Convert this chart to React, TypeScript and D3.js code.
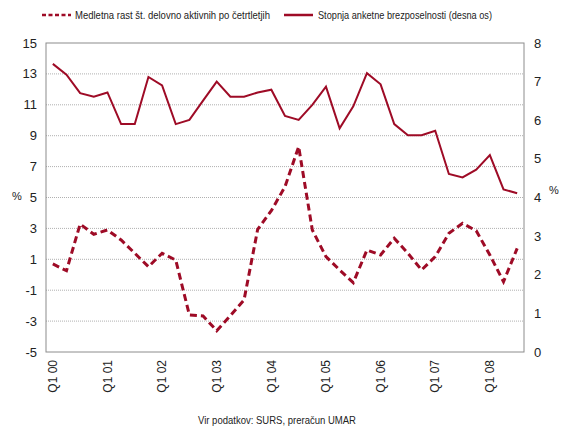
import { useEffect, useRef } from 'react';
import * as d3 from 'd3';

const quarters = d3.range(2000, 2009).flatMap((y) =>
  [1, 2, 3, 4].map((q) => `Q${q} ${String(y % 100).padStart(2, '0')}`)
).slice(0, 35);

// Medletna rast št. delovno aktivnih (left axis)
const employmentGrowth = [
  0.7, 0.26, 3.28, 2.62, 2.9, 2.25, 1.39, 0.52, 1.39, 0.95,
  -2.61, -2.67, -3.62, -2.65, -1.63, 2.94, 4.15, 5.7, 8.29, 2.9,
  1.17, 0.31, -0.51, 1.6, 1.28, 2.36, 1.39, 0.31, 1.17, 2.68,
  3.33, 2.85, 1.28, -0.45, 1.71,
];

// Stopnja anketne brezposelnosti (right axis)
const unemployment = [
  7.46, 7.18, 6.7, 6.61, 6.72, 5.9, 5.9, 7.12, 6.9, 5.9,
  6.01, 6.51, 7.0, 6.61, 6.61, 6.72, 6.79, 6.11, 6.01, 6.4,
  6.87, 5.79, 6.36, 7.22, 6.93, 5.9, 5.61, 5.61, 5.73, 4.61,
  4.52, 4.72, 5.1, 4.21, 4.11,
];

const leftTicks = d3.range(-5, 16, 2);
const rightTicks = d3.range(0, 9, 1);
const xTickLabels = quarters.filter((q) => q.startsWith('Q1'));

const RED = '#9e0b26';
const FONT = '"Liberation Sans", Arial, sans-serif';

export default function App() {
  const ref = useRef<SVGSVGElement>(null);

  useEffect(() => {
    if (!ref.current) return;
    const svg = d3.select(ref.current);
    svg.selectAll('*').remove();

    const W = 562, H = 426;
    const margin = { top: 43, right: 38, bottom: 74, left: 46 };
    const iw = W - margin.left - margin.right;
    const ih = H - margin.top - margin.bottom;

    const x = d3.scaleBand().domain(quarters).range([0, iw]);
    const yL = d3.scaleLinear().domain([-5, 15]).range([ih, 0]);
    const yR = d3.scaleLinear().domain([0, 8]).range([ih, 0]);
    const cx = (q: string) => (x(q) as number) + x.bandwidth() / 2;

    const g = svg.append('g').attr('transform', `translate(${margin.left},${margin.top})`);

    // gridlines
    g.selectAll('line.grid')
      .data(leftTicks.filter((t) => t > -5 && t < 15))
      .join('line')
      .attr('x1', 0).attr('x2', iw)
      .attr('y1', (d) => yL(d)).attr('y2', (d) => yL(d))
      .attr('stroke', '#b0b0b0')
      .attr('stroke-width', 1)
      .attr('stroke-dasharray', '1,1');

    // frame
    g.append('rect')
      .attr('x', 0).attr('y', 0).attr('width', iw).attr('height', ih)
      .attr('fill', 'none').attr('stroke', '#8c8c8c').attr('stroke-width', 1);

    // left ticks
    g.selectAll('text.yl')
      .data(leftTicks)
      .join('text')
      .attr('x', -9).attr('y', (d) => yL(d))
      .attr('dy', '0.35em')
      .attr('text-anchor', 'end')
      .attr('font-family', FONT).attr('font-size', 13).attr('fill', '#222')
      .text((d) => String(d));

    // right ticks
    g.selectAll('text.yr')
      .data(rightTicks)
      .join('text')
      .attr('x', iw + 10).attr('y', (d) => yR(d))
      .attr('dy', '0.35em')
      .attr('text-anchor', 'start')
      .attr('font-family', FONT).attr('font-size', 13).attr('fill', '#222')
      .text((d) => String(d));

    // % labels
    svg.append('text').attr('x', 12).attr('y', 196).attr('dy', '0.35em')
      .attr('font-family', FONT).attr('font-size', 11).attr('fill', '#222').text('%');
    svg.append('text').attr('x', 549).attr('y', 190).attr('dy', '0.35em')
      .attr('font-family', FONT).attr('font-size', 11).attr('fill', '#222').text('%');

    // x labels
    g.selectAll('text.x')
      .data(xTickLabels)
      .join('text')
      .attr('transform', (d) => `translate(${cx(d)},${ih + 8}) rotate(-90)`)
      .attr('dy', '0.35em')
      .attr('text-anchor', 'end')
      .attr('font-family', FONT).attr('font-size', 12).attr('fill', '#222')
      .text((d) => d);

    // lines
    const lineL = d3.line<number>().x((_, i) => cx(quarters[i])).y((d) => yL(d));
    const lineR = d3.line<number>().x((_, i) => cx(quarters[i])).y((d) => yR(d));

    g.append('path')
      .attr('d', lineR(unemployment) as string)
      .attr('fill', 'none').attr('stroke', RED).attr('stroke-width', 2)
      .attr('stroke-linejoin', 'miter');

    g.append('path')
      .attr('d', lineL(employmentGrowth) as string)
      .attr('fill', 'none').attr('stroke', RED).attr('stroke-width', 3)
      .attr('stroke-dasharray', '7,4');

    // legend
    const leg = svg.append('g').attr('transform', 'translate(0,15)');
    leg.append('line').attr('x1', 42).attr('x2', 71).attr('y1', 0).attr('y2', 0)
      .attr('stroke', RED).attr('stroke-width', 2.5).attr('stroke-dasharray', '4,2.5');
    leg.append('text').attr('x', 75).attr('y', 0).attr('dy', '0.35em')
      .attr('font-family', FONT).attr('font-size', 11).attr('fill', '#222')
      .attr('textLength', 195).attr('lengthAdjust', 'spacingAndGlyphs')
      .text('Medletna rast št. delovno aktivnih po četrtletjih');
    leg.append('line').attr('x1', 284).attr('x2', 313).attr('y1', 0).attr('y2', 0)
      .attr('stroke', RED).attr('stroke-width', 2.5);
    leg.append('text').attr('x', 318).attr('y', 0).attr('dy', '0.35em')
      .attr('font-family', FONT).attr('font-size', 11).attr('fill', '#222')
      .attr('textLength', 174).attr('lengthAdjust', 'spacingAndGlyphs')
      .text('Stopnja anketne brezposelnosti (desna os)');

    // source
    svg.append('text').attr('x', 198).attr('y', 420).attr('dy', '0.35em')
      .attr('font-family', FONT).attr('font-size', 10.5).attr('fill', '#222')
      .attr('textLength', 158).attr('lengthAdjust', 'spacingAndGlyphs')
      .text('Vir podatkov: SURS, preračun UMAR');
  }, []);

  return (
    <svg
      ref={ref}
      width={562}
      height={426}
      style={{ position: 'absolute', left: 0, top: 0, background: '#fff' }}
    />
  );
}
